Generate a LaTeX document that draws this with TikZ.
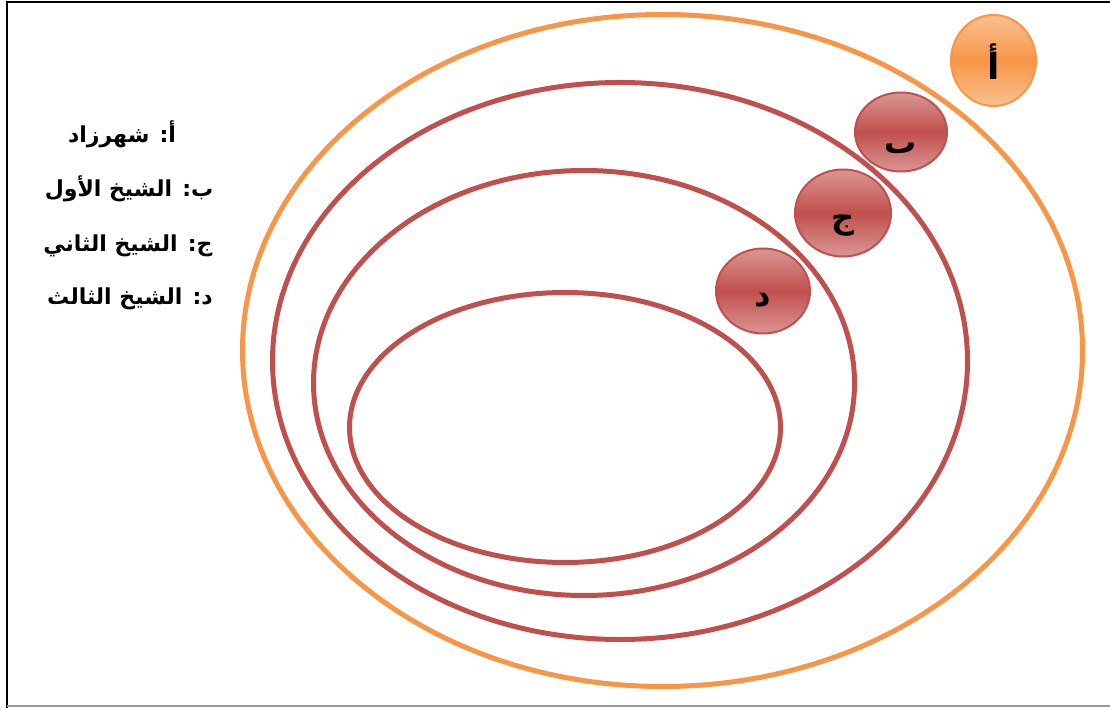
\documentclass[tikz,border=0pt]{standalone}
\usepackage{fontspec}
\usetikzlibrary{shapes.geometric}
\newfontfamily\arabicfont[Script=Arabic]{DejaVu Sans}
\TeXXeTstate=1
\definecolor{orng}{HTML}{F79646}
\definecolor{orngl}{HTML}{FAC090}
\definecolor{rd}{HTML}{C0504D}
\definecolor{rdl}{HTML}{DA9694}
\newcommand{\badgetext}[2]{\raisebox{-#1}[0pt][0pt]{\beginR #2\endR}}
\tikzset{
  ring/.style={ellipse, draw, inner sep=0pt, line width=5pt},
  badge/.style={ellipse, draw, inner sep=0pt, line width=2pt, font=\arabicfont\bfseries\fontsize{32}{36}\selectfont},
  redbadge/.style={badge, draw=rd, top color=rdl, bottom color=rdl, middle color=rd},
  orgbadge/.style={badge, draw=orng, top color=orngl, bottom color=orngl, middle color=orng, font=\arabicfont\bfseries\fontsize{36}{40}\selectfont},
  legend/.style={anchor=base, inner sep=0pt, font=\arabicfont\bfseries\fontsize{22}{26}\selectfont}
}
\begin{document}
\begin{tikzpicture}[x=1pt,y=-1pt]
\useasboundingbox (0,0) rectangle (1110,708);
\fill[white] (0,0) rectangle (1110,708);
% frame
\draw[line width=2pt, black] (7,708) -- (7,2) -- (1110,2);
\draw[line width=2pt, gray!80] (7,706) -- (1110,706);
% rings
\node[ring, draw=orng, minimum width=840pt, minimum height=672pt] (e1) at (662.5,350.5) {};
\node[ring, draw=rd, minimum width=695pt, minimum height=557pt] (e2) at (620,361) {};
\node[ring, draw=rd, minimum width=541pt, minimum height=425pt] (e3) at (584,383) {};
\node[ring, draw=rd, minimum width=431pt, minimum height=270pt] (e4) at (565,427.5) {};
% badges
\node[orgbadge, minimum width=85pt, minimum height=91pt] (ca) at (993.5,60.5) {\badgetext{19pt}{أ}};
\node[redbadge, minimum width=92pt, minimum height=79pt] (cb) at (901,132) {\badgetext{22pt}{ٮ}};
\node[redbadge, minimum width=96pt, minimum height=87pt] (cc) at (843,213) {\badgetext{16pt}{ج}};
\node[redbadge, minimum width=94pt, minimum height=85pt] (cd) at (763,291) {\badgetext{16pt}{د}};
% legend
\node[legend] (l1) at (122,143) {\beginR أ: شهرزاد\endR};
\node[legend] (l2) at (129,197) {\beginR ب: الشيخ الأول\endR};
\node[legend] (l3) at (128,252) {\beginR ج: الشيخ الثاني\endR};
\node[legend] (l4) at (130,305) {\beginR د: الشيخ الثالث\endR};
\end{tikzpicture}
\end{document}
